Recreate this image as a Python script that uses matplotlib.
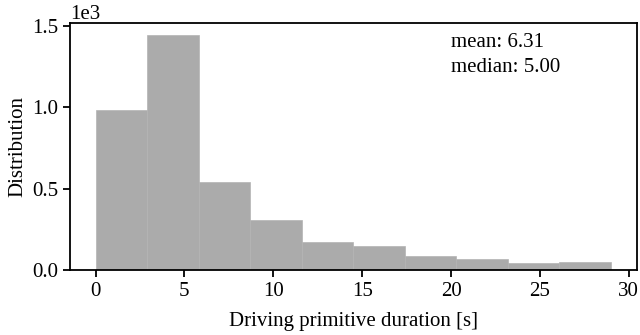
import matplotlib
matplotlib.use("Agg")
import matplotlib.pyplot as plt
import numpy as np

# Histogram of driving primitive durations
bin_edges = np.linspace(0.0, 29.0, 11)
counts = [980, 1445, 541, 306, 170, 149, 86, 69, 45, 47]
mean_val = 6.31
median_val = 5.00

plt.rcParams["font.family"] = ["Liberation Serif", "DejaVu Serif"]
plt.rcParams["font.size"] = 15

fig = plt.figure(figsize=(6.4, 3.35), dpi=100)
ax = fig.add_axes([0.109, 0.194, 0.886, 0.738])

ax.hist(bin_edges[:-1], bins=bin_edges, weights=counts,
        color="#ababab", edgecolor="#b4b4b4", linewidth=0.5)

ax.ticklabel_format(axis="y", style="sci", scilimits=(0, 0))
ax.set_yticks([0, 500, 1000, 1500])
ax.set_xticks([0, 5, 10, 15, 20, 25, 30])
ax.set_xlabel("Driving primitive duration [s]", labelpad=8)
ax.set_ylabel("Distribution", labelpad=3)

ax.text(0.673, 0.96, f"mean: {mean_val:.2f}\nmedian: {median_val:.2f}",
        transform=ax.transAxes, ha="left", va="top", linespacing=1.45)

for sp in ax.spines.values():
    sp.set_linewidth(1.3)
ax.tick_params(width=1.3, length=5)

fig.savefig("out.png", dpi=100)
